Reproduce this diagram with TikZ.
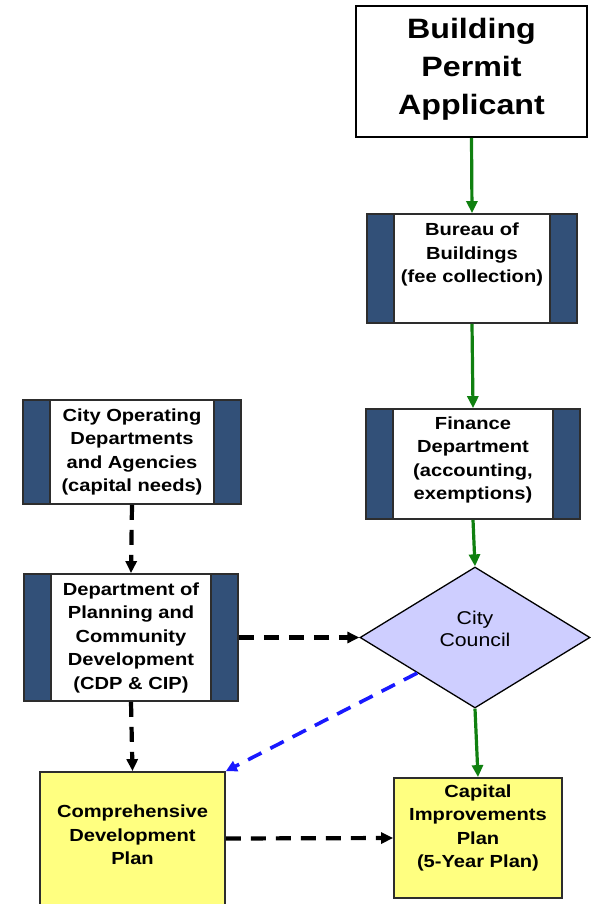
\documentclass[tikz,border=0pt]{standalone}
\usepackage{fontspec}
\setmainfont{Liberation Sans}[FakeStretch=1.15]
\usetikzlibrary{shapes.geometric,arrows.meta,calc}
\definecolor{barblue}{RGB}{50,80,120}
\definecolor{edgegray}{RGB}{45,45,45}
\definecolor{flowgreen}{RGB}{16,128,16}
\definecolor{lavender}{RGB}{206,206,255}
\definecolor{paleyellow}{RGB}{255,255,128}
\definecolor{linkblue}{RGB}{25,25,255}
\begin{document}
\begin{tikzpicture}[x=1pt,y=-1pt,
  boxtext/.style={align=center,font=\bfseries\fontsize{17.5}{23.5}\selectfont,inner sep=0pt},
  sidebox/.style={draw=edgegray,line width=1.8pt,fill=white,inner sep=0pt,
    path picture={
      \fill[barblue] (path picture bounding box.south west) rectangle ([xshift=27pt]path picture bounding box.north west);
      \fill[barblue] ([xshift=-27pt]path picture bounding box.south east) rectangle (path picture bounding box.north east);
      \draw[edgegray,line width=1.8pt] ([xshift=27pt]path picture bounding box.south west) -- ([xshift=27pt]path picture bounding box.north west);
      \draw[edgegray,line width=1.8pt] ([xshift=-27pt]path picture bounding box.south east) -- ([xshift=-27pt]path picture bounding box.north east);
    }},
  planbox/.style={draw=edgegray,line width=1.8pt,fill=paleyellow,inner sep=0pt},
  flow/.style={flowgreen,line width=3.2pt,-{Triangle[length=12pt,width=11pt]}},
  link/.style={black,line width=4.2pt,dash pattern=on 15pt off 10pt,-{Triangle[length=12pt,width=11pt]}},
  backlink/.style={linkblue,line width=3.6pt,dash pattern=on 15pt off 10pt,-{Triangle[length=11pt,width=11pt]}}
]
\useasboundingbox (0,0) rectangle (592,904);

% applicant
\node[draw=black,line width=1.6pt,fill=white,minimum width=231pt,minimum height=131pt,inner sep=0pt] (app) at (471.5,71.5) {};
\node[align=center,font=\bfseries\fontsize{28}{38}\selectfont,inner sep=0pt] (appText) at ([yshift=2pt]app.center) {Building\\Permit\\Applicant};

% departments with side bars
\node[sidebox,minimum width=210pt,minimum height=109pt] (bur) at (472,268.5) {};
\node[boxtext] (burText) at ([yshift=14pt]bur.center) {Bureau of\\Buildings\\(fee collection)};

\node[sidebox,minimum width=214pt,minimum height=110pt] (fin) at (473,464) {};
\node[boxtext] (finText) at ([yshift=4pt]fin.center) {Finance\\Department\\(accounting,\\exemptions)};

\node[sidebox,minimum width=218pt,minimum height=104pt] (ops) at (132,452) {};
\node[boxtext] (opsText) at (ops.center) {City Operating\\Departments\\and Agencies\\(capital needs)};

\node[sidebox,minimum width=214pt,minimum height=127pt] (dept) at (131,637.5) {};
\node[boxtext] (deptText) at (dept.center) {Department of\\Planning and\\Community\\Development\\(CDP \& CIP)};

% council
\node[diamond,aspect=1.63,draw=black,line width=1.3pt,fill=lavender,minimum width=230pt,minimum height=141pt,inner sep=0pt] (council) at (475,637.5) {};
\node[align=center,font=\fontsize{18.5}{22}\selectfont,inner sep=0pt] (councilText) at ([yshift=9pt]council.center) {City\\Council};

% plans
\node[planbox,minimum width=185pt,minimum height=133pt] (cdp) at (132.5,838.5) {};
\node[boxtext] (cdpText) at ([yshift=3.5pt]cdp.center) {Comprehensive\\Development\\Plan};

\node[planbox,minimum width=168pt,minimum height=120pt] (cip) at (478,838) {};
\node[boxtext] (cipText) at ([yshift=10pt]cip.center) {Capital\\Improvements\\Plan\\(5-Year Plan)};

% connectors
\draw[flow] (app.south) -- (bur.north);
\draw[flow] (bur.south) -- (fin.north);
\draw[flow] (fin.south) -- (council.north);
\draw[flow] (council.south) -- (cip.north);

\draw[link] (ops.south) -- (dept.north);
\draw[link] (dept.east) -- (council.west);
\draw[link] (dept.south) -- (cdp.north);
\draw[link] (cdp.east) -- (cip.west);

\draw[backlink] ($(council.west)!0.5!(council.south)$) -- (cdp.north east);
\end{tikzpicture}
\end{document}
